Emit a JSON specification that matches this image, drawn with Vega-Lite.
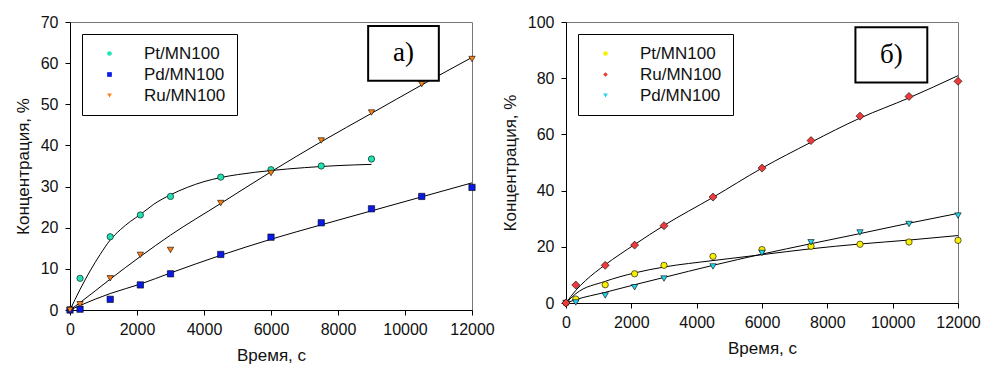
{
  "$schema": "https://vega.github.io/schema/vega-lite/v6.json",
  "padding": {"left": 13, "top": 13, "right": 0, "bottom": 0},
  "background": "white",
  "spacing": 5,
  "datasets": {
    "pointsA": [
      {"t": 0, "c": 0, "s": "Pt/MN100"}, {"t": 300, "c": 7.7, "s": "Pt/MN100"}, {"t": 1200, "c": 17.8, "s": "Pt/MN100"}, {"t": 2100, "c": 23.1, "s": "Pt/MN100"}, {"t": 3000, "c": 27.6, "s": "Pt/MN100"}, {"t": 4500, "c": 32.3, "s": "Pt/MN100"}, {"t": 6000, "c": 34.1, "s": "Pt/MN100"}, {"t": 7500, "c": 35, "s": "Pt/MN100"}, {"t": 9000, "c": 36.7, "s": "Pt/MN100"},
      {"t": 0, "c": 0, "s": "Pd/MN100"}, {"t": 300, "c": 0.2, "s": "Pd/MN100"}, {"t": 1200, "c": 2.6, "s": "Pd/MN100"}, {"t": 2100, "c": 6.1, "s": "Pd/MN100"}, {"t": 3000, "c": 8.8, "s": "Pd/MN100"}, {"t": 4500, "c": 13.5, "s": "Pd/MN100"}, {"t": 6000, "c": 17.7, "s": "Pd/MN100"}, {"t": 7500, "c": 21.2, "s": "Pd/MN100"}, {"t": 9000, "c": 24.6, "s": "Pd/MN100"}, {"t": 10500, "c": 27.6, "s": "Pd/MN100"}, {"t": 12000, "c": 29.8, "s": "Pd/MN100"},
      {"t": 0, "c": 0, "s": "Ru/MN100"}, {"t": 300, "c": 1.4, "s": "Ru/MN100"}, {"t": 1200, "c": 7.7, "s": "Ru/MN100"}, {"t": 2100, "c": 13.4, "s": "Ru/MN100"}, {"t": 3000, "c": 14.6, "s": "Ru/MN100"}, {"t": 4500, "c": 26, "s": "Ru/MN100"}, {"t": 6000, "c": 33.3, "s": "Ru/MN100"}, {"t": 7500, "c": 41.2, "s": "Ru/MN100"}, {"t": 9000, "c": 48, "s": "Ru/MN100"}, {"t": 10500, "c": 54.9, "s": "Ru/MN100"}, {"t": 12000, "c": 61, "s": "Ru/MN100"}
    ],
    "fitA": [
      {"t": 0, "c": 0, "s": "Pt"}, {"t": 300, "c": 5, "s": "Pt"}, {"t": 600, "c": 9.5, "s": "Pt"}, {"t": 900, "c": 13.5, "s": "Pt"}, {"t": 1200, "c": 17, "s": "Pt"}, {"t": 1500, "c": 19.5, "s": "Pt"}, {"t": 1800, "c": 21.5, "s": "Pt"}, {"t": 2100, "c": 23.2, "s": "Pt"}, {"t": 2500, "c": 25.7, "s": "Pt"}, {"t": 3000, "c": 28, "s": "Pt"}, {"t": 3500, "c": 29.8, "s": "Pt"}, {"t": 4000, "c": 31.2, "s": "Pt"}, {"t": 4500, "c": 32.2, "s": "Pt"}, {"t": 5000, "c": 32.9, "s": "Pt"}, {"t": 6000, "c": 33.9, "s": "Pt"}, {"t": 7000, "c": 34.6, "s": "Pt"}, {"t": 8000, "c": 35.1, "s": "Pt"}, {"t": 9000, "c": 35.4, "s": "Pt"},
      {"t": 0, "c": 0, "s": "Pd"}, {"t": 300, "c": 1.1, "s": "Pd"}, {"t": 1200, "c": 4, "s": "Pd"}, {"t": 2100, "c": 6.3, "s": "Pd"}, {"t": 3000, "c": 9, "s": "Pd"}, {"t": 4500, "c": 13.3, "s": "Pd"}, {"t": 6000, "c": 17.2, "s": "Pd"}, {"t": 7500, "c": 20.7, "s": "Pd"}, {"t": 9000, "c": 24.1, "s": "Pd"}, {"t": 10500, "c": 27.5, "s": "Pd"}, {"t": 12000, "c": 30.9, "s": "Pd"},
      {"t": 0, "c": 0, "s": "Ru"}, {"t": 300, "c": 1.8, "s": "Ru"}, {"t": 1200, "c": 7.5, "s": "Ru"}, {"t": 2100, "c": 13, "s": "Ru"}, {"t": 3000, "c": 18.2, "s": "Ru"}, {"t": 4500, "c": 25.9, "s": "Ru"}, {"t": 6000, "c": 33.6, "s": "Ru"}, {"t": 7500, "c": 40.9, "s": "Ru"}, {"t": 9000, "c": 47.8, "s": "Ru"}, {"t": 10500, "c": 54.7, "s": "Ru"}, {"t": 12000, "c": 61.4, "s": "Ru"}
    ],
    "pointsB": [
      {"t": 0, "c": 0, "s": "Pt/MN100"}, {"t": 300, "c": 1.4, "s": "Pt/MN100"}, {"t": 1200, "c": 6.5, "s": "Pt/MN100"}, {"t": 2100, "c": 10.4, "s": "Pt/MN100"}, {"t": 3000, "c": 13.4, "s": "Pt/MN100"}, {"t": 4500, "c": 16.6, "s": "Pt/MN100"}, {"t": 6000, "c": 19, "s": "Pt/MN100"}, {"t": 7500, "c": 20.2, "s": "Pt/MN100"}, {"t": 9000, "c": 20.9, "s": "Pt/MN100"}, {"t": 10500, "c": 21.7, "s": "Pt/MN100"}, {"t": 12000, "c": 22.3, "s": "Pt/MN100"},
      {"t": 0, "c": 0, "s": "Ru/MN100"}, {"t": 300, "c": 6.4, "s": "Ru/MN100"}, {"t": 1200, "c": 13.4, "s": "Ru/MN100"}, {"t": 2100, "c": 20.6, "s": "Ru/MN100"}, {"t": 3000, "c": 27.5, "s": "Ru/MN100"}, {"t": 4500, "c": 37.7, "s": "Ru/MN100"}, {"t": 6000, "c": 48, "s": "Ru/MN100"}, {"t": 7500, "c": 57.8, "s": "Ru/MN100"}, {"t": 9000, "c": 66.5, "s": "Ru/MN100"}, {"t": 10500, "c": 73.5, "s": "Ru/MN100"}, {"t": 12000, "c": 78.9, "s": "Ru/MN100"},
      {"t": 0, "c": 0, "s": "Pd/MN100"}, {"t": 300, "c": 0.2, "s": "Pd/MN100"}, {"t": 1200, "c": 2.7, "s": "Pd/MN100"}, {"t": 2100, "c": 5.6, "s": "Pd/MN100"}, {"t": 3000, "c": 8.7, "s": "Pd/MN100"}, {"t": 4500, "c": 13, "s": "Pd/MN100"}, {"t": 6000, "c": 17.8, "s": "Pd/MN100"}, {"t": 7500, "c": 21.6, "s": "Pd/MN100"}, {"t": 9000, "c": 25.1, "s": "Pd/MN100"}, {"t": 10500, "c": 28.1, "s": "Pd/MN100"}, {"t": 12000, "c": 31.1, "s": "Pd/MN100"}
    ],
    "fitB": [
      {"t": 0, "c": 0, "s": "Ru"}, {"t": 300, "c": 4.5, "s": "Ru"}, {"t": 600, "c": 8, "s": "Ru"}, {"t": 1200, "c": 13.6, "s": "Ru"}, {"t": 2100, "c": 20.8, "s": "Ru"}, {"t": 3000, "c": 27.6, "s": "Ru"}, {"t": 4500, "c": 37.6, "s": "Ru"}, {"t": 6000, "c": 48, "s": "Ru"}, {"t": 7500, "c": 57.2, "s": "Ru"}, {"t": 9000, "c": 65.8, "s": "Ru"}, {"t": 10500, "c": 73, "s": "Ru"}, {"t": 12000, "c": 80.9, "s": "Ru"},
      {"t": 0, "c": 0, "s": "Pt"}, {"t": 300, "c": 3.3, "s": "Pt"}, {"t": 1200, "c": 7.7, "s": "Pt"}, {"t": 2100, "c": 10.7, "s": "Pt"}, {"t": 3000, "c": 12.8, "s": "Pt"}, {"t": 4500, "c": 15.1, "s": "Pt"}, {"t": 6000, "c": 17.2, "s": "Pt"}, {"t": 7500, "c": 19.3, "s": "Pt"}, {"t": 9000, "c": 21, "s": "Pt"}, {"t": 10500, "c": 22.4, "s": "Pt"}, {"t": 12000, "c": 24, "s": "Pt"},
      {"t": 0, "c": 0, "s": "Pd"}, {"t": 300, "c": 1.2, "s": "Pd"}, {"t": 1200, "c": 3.8, "s": "Pd"}, {"t": 2100, "c": 6.5, "s": "Pd"}, {"t": 3000, "c": 9.1, "s": "Pd"}, {"t": 4500, "c": 13.4, "s": "Pd"}, {"t": 6000, "c": 17.4, "s": "Pd"}, {"t": 7500, "c": 21.1, "s": "Pd"}, {"t": 9000, "c": 24.7, "s": "Pd"}, {"t": 10500, "c": 28.4, "s": "Pd"}, {"t": 12000, "c": 31.9, "s": "Pd"}
    ],
    "boxA": [{"x1": 8900, "x2": 11010, "y1": 69, "y2": 55.7, "xm": 9955, "ym": 62.4, "label": "а)"}],
    "boxB": [{"x1": 8860, "x2": 11060, "y1": 98.1, "y2": 78.5, "xm": 9960, "ym": 88.3, "label": "б)"}]
  },
  "hconcat": [
    {
      "width": 402,
      "height": 288,
      "layer": [
        {
          "data": {"name": "fitA"},
          "mark": {"type": "line", "color": "black", "strokeWidth": 1, "interpolate": "monotone"},
          "encoding": {
            "x": {"field": "t", "type": "quantitative", "scale": {"domain": [0, 12000], "nice": false}, "axis": {"values": [0, 2000, 4000, 6000, 8000, 10000, 12000], "format": "d", "labelOverlap": false, "labelFlush": false, "title": "Время, с"}},
            "y": {"field": "c", "type": "quantitative", "scale": {"domain": [0, 70], "nice": false}, "axis": {"values": [0, 10, 20, 30, 40, 50, 60, 70], "labelOverlap": false, "labelFlush": false, "title": "Концентрация, %"}},
            "detail": {"field": "s"}
          }
        },
        {
          "data": {"name": "pointsA"},
          "mark": {"type": "point", "filled": true, "stroke": "black", "strokeWidth": 0.6, "opacity": 1, "size": 40},
          "encoding": {
            "x": {"field": "t", "type": "quantitative"},
            "y": {"field": "c", "type": "quantitative"},
            "fill": {"field": "s", "type": "nominal", "title": null, "scale": {"domain": ["Pt/MN100", "Pd/MN100", "Ru/MN100"], "range": ["#22E2B4", "#0A1AE6", "#FF8010"]}, "legend": {"encode": {"symbols": {"update": {"stroke": {"value": "black"}, "strokeWidth": {"value": 0.6}}}}}},
            "shape": {"field": "s", "type": "nominal", "title": null, "scale": {"domain": ["Pt/MN100", "Pd/MN100", "Ru/MN100"], "range": ["circle", "square", "triangle-down"]}, "legend": {"encode": {"symbols": {"update": {"stroke": {"value": "black"}, "strokeWidth": {"value": 0.6}}}}}}
          }
        },
        {
          "data": {"name": "boxA"},
          "mark": {"type": "rect", "fill": "white", "stroke": "black", "strokeWidth": 2},
          "encoding": {
            "x": {"field": "x1", "type": "quantitative"},
            "x2": {"field": "x2"},
            "y": {"field": "y1", "type": "quantitative"},
            "y2": {"field": "y2"}
          }
        },
        {
          "data": {"name": "boxA"},
          "mark": {"type": "text", "font": "Liberation Serif", "fontSize": 27, "baseline": "middle", "align": "center", "color": "black"},
          "encoding": {
            "x": {"field": "xm", "type": "quantitative"},
            "y": {"field": "ym", "type": "quantitative"},
            "text": {"field": "label"}
          }
        }
      ]
    },
    {
      "width": 392,
      "height": 281,
      "layer": [
        {
          "data": {"name": "fitB"},
          "mark": {"type": "line", "color": "black", "strokeWidth": 1, "interpolate": "monotone"},
          "encoding": {
            "x": {"field": "t", "type": "quantitative", "scale": {"domain": [0, 12000], "nice": false}, "axis": {"values": [0, 2000, 4000, 6000, 8000, 10000, 12000], "format": "d", "labelOverlap": false, "labelFlush": false, "title": "Время, с"}},
            "y": {"field": "c", "type": "quantitative", "scale": {"domain": [0, 100], "nice": false}, "axis": {"values": [0, 20, 40, 60, 80, 100], "labelOverlap": false, "labelFlush": false, "title": "Концентрация, %"}},
            "detail": {"field": "s"}
          }
        },
        {
          "data": {"name": "pointsB"},
          "transform": [{"filter": "datum.s !== 'Ru/MN100'"}],
          "mark": {"type": "point", "filled": true, "stroke": "black", "strokeWidth": 0.6, "opacity": 1, "size": 40},
          "encoding": {
            "x": {"field": "t", "type": "quantitative"},
            "y": {"field": "c", "type": "quantitative"},
            "fill": {"field": "s", "type": "nominal", "title": null, "scale": {"domain": ["Pt/MN100", "Ru/MN100", "Pd/MN100"], "range": ["#F8F000", "#EE3A3A", "#22D6EE"]}, "legend": {"encode": {"symbols": {"update": {"stroke": {"value": "black"}, "strokeWidth": {"value": 0.6}}}}}},
            "shape": {"field": "s", "type": "nominal", "title": null, "scale": {"domain": ["Pt/MN100", "Ru/MN100", "Pd/MN100"], "range": ["circle", "diamond", "triangle-down"]}, "legend": {"encode": {"symbols": {"update": {"stroke": {"value": "black"}, "strokeWidth": {"value": 0.6}}}}}}
          }
        },
        {
          "data": {"name": "pointsB"},
          "transform": [{"filter": "datum.s === 'Ru/MN100'"}],
          "mark": {"type": "point", "filled": true, "stroke": "black", "strokeWidth": 0.6, "opacity": 1, "size": 64},
          "encoding": {
            "x": {"field": "t", "type": "quantitative"},
            "y": {"field": "c", "type": "quantitative"},
            "fill": {"field": "s", "type": "nominal", "title": null},
            "shape": {"field": "s", "type": "nominal", "title": null}
          }
        },
        {
          "data": {"name": "boxB"},
          "mark": {"type": "rect", "fill": "white", "stroke": "black", "strokeWidth": 2},
          "encoding": {
            "x": {"field": "x1", "type": "quantitative"},
            "x2": {"field": "x2"},
            "y": {"field": "y1", "type": "quantitative"},
            "y2": {"field": "y2"}
          }
        },
        {
          "data": {"name": "boxB"},
          "mark": {"type": "text", "font": "Liberation Serif", "fontSize": 27, "baseline": "middle", "align": "center", "color": "black"},
          "encoding": {
            "x": {"field": "xm", "type": "quantitative"},
            "y": {"field": "ym", "type": "quantitative"},
            "text": {"field": "label"}
          }
        }
      ]
    }
  ],
  "resolve": {"scale": {"fill": "independent", "shape": "independent"}},
  "config": {
    "view": {"stroke": "#777777", "strokeWidth": 1},
    "axis": {
      "grid": false,
      "labelFont": "Liberation Sans",
      "labelFontSize": 16,
      "labelColor": "#111111",
      "titleFont": "Liberation Sans",
      "titleFontSize": 17,
      "titleFontWeight": "normal",
      "titleColor": "#111111",
      "domainColor": "black",
      "tickColor": "black",
      "tickSize": 5,
      "labelPadding": 6,
      "titlePadding": 10
    },
    "axisY": {"labelPadding": 7, "titlePadding": 8},
    "legend": {
      "orient": "top-left",
      "offset": 12,
      "padding": 11,
      "strokeColor": "black",
      "fillColor": "white",
      "labelFont": "Liberation Sans",
      "labelFontSize": 17,
      "labelColor": "#111111",
      "symbolSize": 22,
      "symbolStrokeColor": "black",
      "symbolStrokeWidth": 0.6,
      "symbolOffset": 8,
      "labelOffset": 26,
      "rowPadding": 3
    }
  }
}
